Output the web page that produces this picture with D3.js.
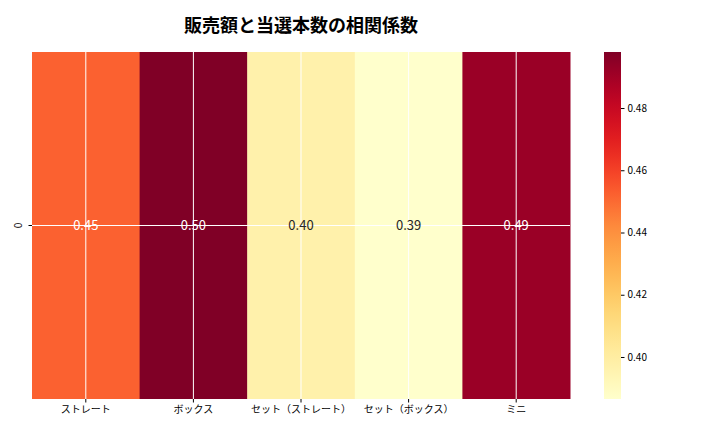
<!DOCTYPE html>
<html>
<head>
<meta charset="utf-8">
<script src="https://cdn.jsdelivr.net/npm/d3@7"></script>
<style>
  body { margin: 0; background: #fff; }
  text { font-family: "Noto Sans CJK JP", "Noto Sans", sans-serif; }
</style>
</head>
<body>
<svg id="chart" width="720" height="432"></svg>
<script>
const categories = ["ストレート", "ボックス", "セット（ストレート）", "セット（ボックス）", "ミニ"]
const rows = ["0"]
const values = [0.452, 0.498, 0.397, 0.3865, 0.492]
const labels = ["0.45", "0.50", "0.40", "0.39", "0.49"]
const cbarTicks = [0.40, 0.42, 0.44, 0.46, 0.48]

const svg = d3.select("#chart")
const margin = {top: 52, left: 32, right: 150, bottom: 33}
const width = 720, height = 432

const vmin = d3.min(values), vmax = d3.max(values)
const color = d3.scaleSequential(d3.interpolateYlOrRd).domain([vmin, vmax])

const x = d3.scaleBand().domain(categories).range([margin.left, width - margin.right])
const y = d3.scaleBand().domain(rows).range([margin.top, height - margin.bottom])

svg.append("text")
    .attr("x", 301).attr("y", 32)
    .attr("text-anchor", "middle")
    .attr("font-size", 18).attr("font-weight", "bold")
    .text("販売額と当選本数の相関係数")

svg.append("g").selectAll("rect")
    .data(values)
    .join("rect")
    .attr("x", (d, i) => x(categories[i]))
    .attr("y", y("0"))
    .attr("width", x.bandwidth() + 0.5)
    .attr("height", y.bandwidth())
    .attr("fill", d => color(d))

// grid lines
const grid = svg.append("g").attr("stroke", "#fff").attr("stroke-width", 1)
grid.selectAll("line.v").data(categories).join("line")
    .attr("x1", d => x(d) + x.bandwidth() / 2).attr("x2", d => x(d) + x.bandwidth() / 2)
    .attr("y1", margin.top).attr("y2", height - margin.bottom)
grid.append("line")
    .attr("x1", margin.left).attr("x2", width - margin.right)
    .attr("y1", y("0") + y.bandwidth() / 2).attr("y2", y("0") + y.bandwidth() / 2)

svg.append("g").selectAll("text")
    .data(values)
    .join("text")
    .attr("x", (d, i) => x(categories[i]) + x.bandwidth() / 2)
    .attr("y", y("0") + y.bandwidth() / 2)
    .attr("dy", "0.35em")
    .attr("text-anchor", "middle")
    .attr("font-size", 13)
    .attr("fill", d => (d - vmin) / (vmax - vmin) > 0.5 ? "#fff" : "#262626")
    .text((d, i) => labels[i])

svg.append("g")
    .attr("transform", `translate(0,${height - margin.bottom})`)
    .call(d3.axisBottom(x).tickSizeOuter(0).tickSize(3.5))
    .call(g => g.select(".domain").remove())
    .call(g => g.selectAll("text").attr("font-size", 10).attr("fill", "#000"))

const yAxis = svg.append("g")
    .attr("transform", `translate(${margin.left},0)`)
    .call(d3.axisLeft(y).tickSize(3.5))
    .call(g => g.select(".domain").remove())
yAxis.selectAll(".tick text")
    .attr("font-size", 10).attr("fill", "#000")
    .attr("x", 0).attr("dy", 0)
    .attr("text-anchor", "middle")
    .attr("transform", "translate(-10,0) rotate(-90)")

// colorbar
const cb = {x: 604, w: 17}
const cy = d3.scaleLinear().domain([vmin, vmax]).range([height - margin.bottom, margin.top])
const defs = svg.append("defs")
const grad = defs.append("linearGradient").attr("id", "cbar")
    .attr("x1", 0).attr("y1", 1).attr("x2", 0).attr("y2", 0)
d3.range(0, 1.001, 0.05).forEach(t => grad.append("stop")
    .attr("offset", t).attr("stop-color", d3.interpolateYlOrRd(t)))
svg.append("rect")
    .attr("x", cb.x).attr("y", margin.top)
    .attr("width", cb.w).attr("height", height - margin.top - margin.bottom)
    .attr("fill", "url(#cbar)")
svg.append("g")
    .attr("transform", `translate(${cb.x + cb.w},0)`)
    .call(d3.axisRight(cy).tickValues(cbarTicks).tickFormat(d3.format(".2f")).tickSize(3.5))
    .call(g => g.select(".domain").remove())
    .call(g => g.selectAll("text").attr("font-size", 10).attr("fill", "#000"))
</script>
</body>
</html>
